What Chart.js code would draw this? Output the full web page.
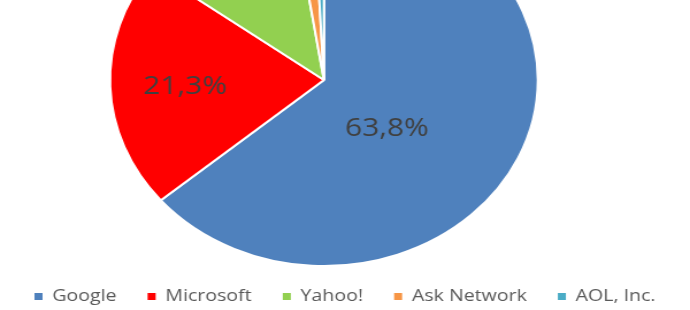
<!DOCTYPE html>
<html>
<head>
<meta charset="utf-8">
<script src="https://cdn.jsdelivr.net/npm/chart.js@4/dist/chart.umd.min.js"></script>
<style>
  html, body { margin: 0; padding: 0; background: #fff; overflow: hidden; width: 690px; height: 310px; }
  #c { position: absolute; left: 0; top: -101px; transform: scaleX(1.15); transform-origin: 0 0; }
</style>
</head>
<body>
<canvas id="c" width="600" height="416"></canvas>
<script>
const categories = ['Google', 'Microsoft', 'Yahoo!', 'Ask Network', 'AOL, Inc.'];
const shares = [63.8, 21.3, 12.4, 1.7, 0.8];
const sliceColors = ['#4F81BD', '#FF0000', '#92D050', '#F79646', '#4BACC6'];
const labelRadiusFrac = [0.395, 0.65, 0.65, 0.65, 0.65];
const labelAngleShiftDeg = [17, -1, 0, 0, 0];

const ellipsePlugin = {
  id: 'shiftAndLabels',
  beforeDatasetsDraw(chart) {
    const ctx = chart.ctx;
    ctx.save();
    ctx.translate(-18.3, 0);
  },
  afterDatasetsDraw(chart) {
    const ctx = chart.ctx;
    const meta = chart.getDatasetMeta(0);
    ctx.font = '26px "Open Sans"';
    ctx.fillStyle = '#404040';
    ctx.textAlign = 'center';
    ctx.textBaseline = 'middle';
    meta.data.forEach((arc, i) => {
      const p = arc.getProps(['x', 'y', 'startAngle', 'endAngle', 'outerRadius'], true);
      const mid = (p.startAngle + p.endAngle) / 2 + labelAngleShiftDeg[i] * Math.PI / 180;
      const r = p.outerRadius * labelRadiusFrac[i];
      const txt = shares[i].toFixed(1).replace('.', ',') + '%';
      ctx.fillText(txt, p.x + Math.cos(mid) * r, p.y + Math.sin(mid) * r);
    });
    ctx.restore();
  }
};

new Chart(document.getElementById('c'), {
  type: 'pie',
  data: {
    labels: categories,
    datasets: [{
      data: shares,
      backgroundColor: sliceColors,
      borderColor: '#FFFFFF',
      borderWidth: 2,
      radius: 186,
      clip: false
    }]
  },
  options: {
    responsive: false,
    animation: false,
    devicePixelRatio: 1,
    layout: { padding: 0 },
    plugins: {
      tooltip: { enabled: false },
      legend: {
        position: 'bottom',
        labels: {
          boxWidth: 7,
          boxHeight: 7,
          padding: 27,
          color: '#595959',
          font: { family: '"Open Sans"', size: 17 },
          generateLabels(chart) {
            const items = Chart.overrides.pie.plugins.legend.labels.generateLabels(chart);
            items.forEach(it => { it.lineWidth = 0; it.strokeStyle = 'rgba(0,0,0,0)'; });
            return items;
          }
        }
      }
    }
  },
  plugins: [ellipsePlugin]
});
</script>
</body>
</html>
